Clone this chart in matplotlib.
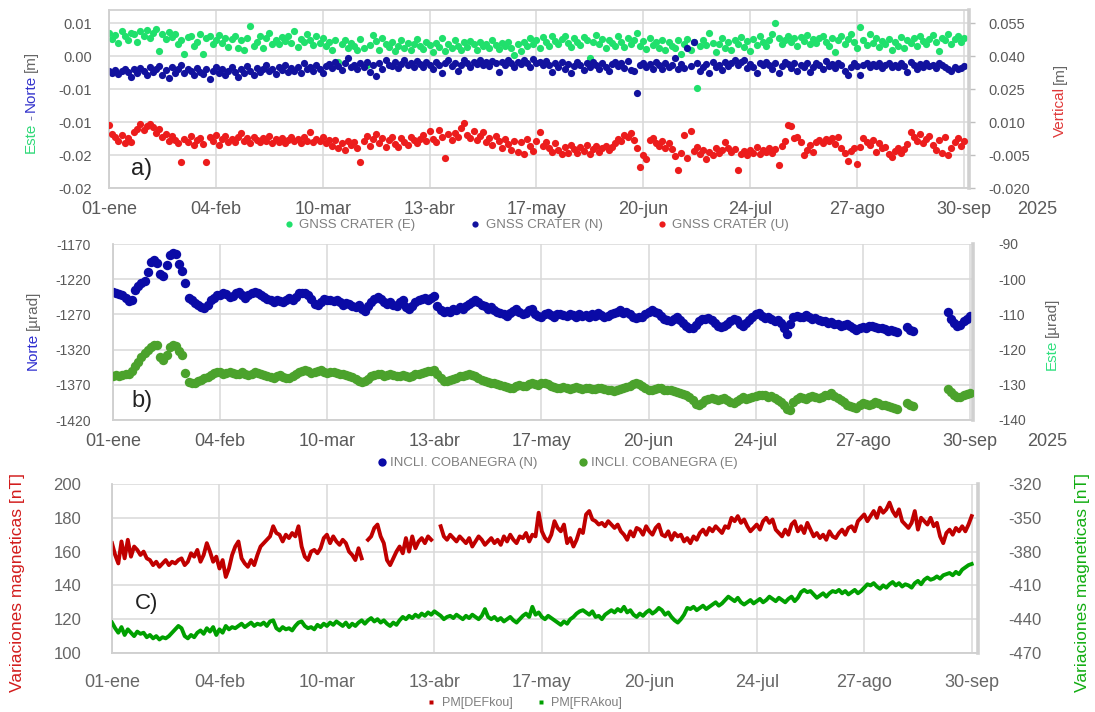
import numpy as np
import matplotlib
matplotlib.use("Agg")
import matplotlib.pyplot as plt
from matplotlib.lines import Line2D
from matplotlib.ticker import FixedLocator, FixedFormatter

plt.rcParams["font.family"] = ["Liberation Sans", "DejaVu Sans"]
plt.rcParams["axes.unicode_minus"] = False
NARROW = ["Liberation Sans Narrow", "Liberation Sans", "DejaVu Sans"]

W, H = 1095, 712

# ---------------------------------------------------------------- common axis
date_ticks = [0, 34, 68, 102, 136, 170, 204, 238, 272]
date_labels = ["01-ene", "04-feb", "10-mar", "13-abr", "17-may",
               "20-jun", "24-jul", "27-ago", "30-sep"]
year_label = "2025"

# ---------------------------------------------------------------- a) GNSS (mm)
gnss_e_mm = [
    3.5, 2.6, 3.2, 2.0, 3.8, 3.0, 2.4, 3.6, 3.3, 2.2,
    3.9, 3.1, 4.0, 2.8, 3.5, 4.2, 0.8, 3.3, 2.6, 3.7,
    2.9, 3.4, 1.8, 2.5, 0.3, 2.9, 3.1, 1.6, 2.2, 3.4,
    0.4, 2.7, 3.0, 1.9, 2.5, 3.2, 2.0, 2.8, 1.4, 2.6,
    3.0, 1.2, 2.4, 1.0, 2.8, 4.6, 1.5, 2.2, 3.1, 1.3,
    2.7, 3.6, 1.9, 2.4, 1.8, 2.9, 2.3, 3.0, 2.0, 3.8,
    1.4, 2.6, 2.1, 3.3, 2.5, 1.7, 3.1, 2.0, 2.8, 1.6,
    2.2, 1.0, 2.5, -0.9, 1.8, 2.4, 1.2, 2.0, 1.5, 0.9,
    2.6, 1.3, -1.4, 1.7, 3.2, 2.3, 1.0, 2.7, 1.9, 1.4,
    2.1, 0.8, 1.6, 2.4, 1.2, 2.0, 0.9, 1.8, 2.6, 1.5,
    1.1, 2.2, 1.7, 0.7, 2.0, 1.4, 2.8, 0.8, 1.9, 1.3,
    2.5, 1.6, 0.9, 2.1, 1.4, 2.3, 1.8, 1.0, 2.2, 1.5,
    1.9, 1.2, 2.4, 1.7, 1.1, 2.0, 1.6, 2.1, 1.3, 0.2,
    1.8, 0.8, 2.2, 1.5, 2.7, 1.9, 2.4, 1.2, 2.9, 2.1,
    1.6, 3.1, 2.3, 1.8, 2.6, 3.0, 2.0, 1.4, 2.7, 2.2,
    1.7, 2.9, 2.4, -0.3, 2.1, 3.2, 1.9, 2.6, 1.2, 2.5,
    2.0, 1.6, 3.0, 2.2, 1.4, 2.7, 1.9, 2.4, 3.6, 1.5,
    2.3, 1.1, 2.8, 1.7, 2.1, 1.3, 2.5, 0.9, 2.2, 1.6,
    1.2, 2.4, 0.4, 1.8, 2.6, 1.0, 2.2, -4.8, 1.5, 2.4,
    1.7, 3.5, 2.0, 0.6, 1.9, 2.7, 1.3, 2.2, 1.0, 2.5,
    1.8, 2.9, 1.4, 2.3, 0.8, 2.6, 1.7, 3.0, 2.1, 1.5,
    2.4, 3.3, 5.0, 2.8, 1.9, 2.5, 3.1, 2.2, 2.7, 1.6,
    2.9, 2.3, 3.2, 1.8, 2.6, 2.0, 2.8, 3.0, 2.2, 1.5,
    2.7, 0.7, 2.4, 3.1, 1.9, 2.6, 3.4, 2.1, 1.3, 4.5,
    2.5, 1.7, 3.3, 2.0, 2.8, 1.4, 2.3, 1.8, 2.6, 1.0,
    2.2, 1.6, 2.9, 1.3, 2.4, 2.0, 2.7, 1.5, 3.0, 2.3,
    1.8, 2.6, 3.2, 2.1, 0.8, 2.8, 2.4, 3.4, 1.9, 2.6,
    3.0, 2.2, 2.7,
]
gnss_n_mm = [
    -2.3, -2.5, -2.1, -2.7, -2.2, -1.9, -2.4, -3.1, -2.0, -2.6,
    -1.8, -2.2, -2.9, -1.6, -2.4, -2.0, -1.5, -2.8, -2.1, -3.3,
    -1.7, -2.5, -2.0, -1.4, -2.6, -1.9, -2.3, -2.9, -1.8, -2.4,
    -2.7, -2.0, -3.5, -2.2, -1.6, -2.5, -1.9, -2.8, -2.3, -1.7,
    -2.4, -3.2, -2.0, -2.6, -1.5, -2.2, -2.9, -1.8, -2.4, -2.0,
    -1.4, -2.3, -1.9, -2.7, -1.6, -2.1, -1.3, -2.4, -1.8, -2.2,
    -1.6, -2.5, -1.1, -2.0, -1.7, -2.3, -1.4, -1.9, -2.6, -1.5,
    -1.2, -1.8, -0.9, -1.5, -2.1, -1.0, -0.3, -1.6, -1.3, -2.0,
    -1.1, -1.7, -0.8, -2.4, -1.4, -3.0, -1.0, -1.9, -0.6, -1.3,
    -1.5, -0.9, -1.8, -1.2, -0.5, -1.4, -1.0, -1.7, -0.7, -1.2,
    -1.6, -0.9, -1.3, -2.0, -0.8, -1.4, -2.6, -1.1, -0.6, -1.5,
    -1.0, -2.3, -1.3, -0.5, -1.1, -1.7, -0.8, -1.2, -0.6, -1.4,
    -0.9, -1.5, -0.7, -1.1, -2.4, -0.8, -1.3, -0.5, -1.0, -1.6,
    -0.8, -1.2, -0.6, -1.0, -1.7, -0.4, -1.1, -0.9, -1.4, -0.7,
    -1.3, -2.4, -1.0, -1.6, -0.8, -1.9, -1.2, -2.5, -1.5, -0.9,
    -1.4, -2.1, -1.1, -1.7, -0.8, -1.3, -1.9, -1.0, -1.6, -2.3,
    -1.2, -0.9, -1.5, -1.1, -1.8, -0.7, -2.1, -2.2, -5.6, -1.3,
    -1.0, -1.6, -1.2, -1.9, -0.8, -1.4, -2.0, -1.1, -1.7, -1.3,
    -0.3, -2.0, -1.2, -1.8, 1.2, -1.5, 2.2, -1.0, -2.3, -1.6,
    -1.2, -2.6, -0.9, -1.7, -1.3, -2.1, -0.8, -1.5, -1.1, -0.6,
    -1.4, -0.9, -0.5, -1.8, -1.2, -1.6, -2.5, -1.0, -1.4, -0.8,
    -1.3, -1.9, -1.1, -2.6, -1.5, -0.9, -1.2, -1.8, -1.0, -2.2,
    -1.4, -1.7, -1.1, -2.4, -1.6, -1.0, -1.3, -1.9, -0.7, -1.5,
    -1.2, -1.8, -1.0, -1.4, -2.3, -2.8, -1.6, -1.1, -1.5, -2.9,
    -1.3, -1.0, -1.7, -1.2, -1.5, -1.1, -1.8, -1.4, -1.0, -1.6,
    -1.3, -1.7, -1.1, -1.5, -2.4, -0.8, -1.4, -1.9, -1.2, -1.6,
    -1.0, -1.5, -1.3, -1.8, -1.1, -1.4, -1.7, -2.0, -2.3, -1.6,
    -2.0, -1.8, -1.5,
]
gnss_u_mm = [
    8.5, 4.8, 3.3, 1.5, 4.0, 0.4, 2.6, 1.0, 5.5, 7.0,
    9.3, 6.4, 8.2, 9.0, 7.6, 5.2, 6.8, 3.0, 4.6, 1.2,
    3.8, 2.0, 0.5, -8.3, 2.4, 0.9, 3.5, -0.6, 1.8, 2.9,
    0.2, -8.3, 3.3, 1.4, 4.2, -0.3, 2.1, 3.6, 0.8, 2.5,
    1.0, 3.0, 5.2, 1.6, 2.7, 0.3, 3.4, 2.0, 0.9, 2.6,
    1.5, 3.8, 0.6, 2.3, 1.1, 2.8, 0.4, 1.9, 3.2, 1.3,
    2.2, 0.7, 3.0, 1.6, 5.6, 0.9, 2.5, 1.2, 3.1, 0.5,
    1.8, -0.8, 2.0, -1.9, 0.6, -2.5, 1.3, -0.4, 0.9, -1.6,
    -8.0, 1.5, 3.6, -0.9, 2.3, 4.4, 0.4, 2.8, -1.2, 1.9,
    3.4, 0.2, -1.5, 2.6, 1.0, -0.6, 3.0, 1.7, 0.3, 2.2,
    4.0, 1.3, 5.8, 2.5, 0.8, 6.3, 3.2, -6.5, 4.5, 2.0,
    5.1, 3.4, 7.2, 9.6, 4.0, 2.6, 6.0, 1.8, 3.5, 5.3,
    0.9, 2.7, -0.5, 3.8, 1.4, -1.8, 2.3, 0.2, -2.6, 1.5,
    -3.8, 0.8, -4.6, 2.4, -1.0, -3.3, 1.2, 5.4, -0.7, 1.0,
    -1.9, -3.6, 0.5, -2.8, -4.5, -1.2, -3.9, -0.6, -2.4, -4.1,
    -1.5, -3.0, -0.3, -4.4, -2.2, -1.0, -3.5, -2.0, -0.8, -2.9,
    -1.4, 0.6, 2.5, 1.4, 4.0, 3.2, 5.1, 2.0, -1.8, -10.6,
    -4.8, -7.0, 1.8, 2.9, 0.6, -0.8, 1.5, -1.6, 0.4, -2.2,
    -5.5, -12.0, -4.0, 4.3, -6.2, 5.9, -3.0, -1.5, -4.5, -2.6,
    -6.8, -3.4, -5.0, -1.8, -4.2, -2.9, 0.8, -1.6, -3.7, -2.3,
    -12.0, -4.6, -3.0, -4.8, -2.5, -3.9, -1.4, -4.4, -2.8, -3.6,
    -1.9, -4.1, -2.2, -9.5, -0.7, 1.5, 8.8, 8.3, 2.6, 3.4,
    0.8, -5.0, -2.6, -0.4, -3.8, 1.1, 1.8, 0.6, 2.5, 1.3,
    2.8, 0.2, 3.0, -1.6, -4.0, -7.8, -3.0, -2.0, -9.0, -1.2,
    2.6, 1.0, -0.6, 2.0, -3.4, 0.4, -2.0, -1.4, -4.6, -5.8,
    -3.0, -1.6, -4.2, -2.4, 0.2, 5.6, 3.0, 1.4, 4.6, 0.6,
    2.2, 3.5, -0.4, -2.8, 1.8, -4.2, 3.0, -5.0, -1.6, 0.8,
    2.6, -0.8, 1.2,
]

# ---------------------------------------------------------------- b) tilt (µrad)
nan = np.nan
incli_n = [
    -1238, -1240, -1241, -1243, -1247, -1251, -1250, -1236, -1230, -1226,
    -1222, -1210, -1195, -1193, -1197, -1212, -1215, -1200, -1186, -1183,
    -1184, -1198, -1208, -1226, -1246, -1250, -1254, -1257, -1260, -1261,
    -1256, -1250, -1246, -1243, -1242, -1240, -1241, -1245, -1244, -1240,
    -1238, -1242, -1246, -1243, -1240, -1238, -1240, -1242, -1245, -1248,
    -1250, -1252, -1249, -1251, -1253, -1250, -1247, -1250, -1245, -1240,
    -1239, -1240, -1242, -1248, -1255, -1257, -1252, -1248, -1250, -1249,
    -1251, -1250, -1253, -1256, -1254, -1255, -1258, -1260, -1257, -1262,
    -1265, -1258, -1252, -1248, -1245, -1248, -1252, -1255, -1252, -1256,
    -1258, -1253, -1250, -1260, -1262, -1258, -1252, -1250, -1248, -1246,
    -1250, -1246, -1244, -1258, -1264, -1266, -1265, -1267, -1262, -1264,
    -1260, -1262, -1258, -1255, -1252, -1250, -1253, -1256, -1258, -1262,
    -1260, -1264, -1266, -1268, -1270, -1272, -1268, -1265, -1262, -1266,
    -1270, -1268, -1264, -1262, -1270, -1272, -1274, -1270, -1268, -1271,
    -1273, -1270, -1269, -1271, -1272, -1270, -1271, -1273, -1270, -1272,
    -1271, -1273, -1270, -1272, -1268, -1271, -1274, -1272, -1270, -1268,
    -1266, -1264, -1268, -1266, -1270, -1274, -1275, -1273, -1274, -1270,
    -1266, -1264, -1266, -1268, -1272, -1276, -1278, -1280, -1276, -1274,
    -1278, -1282, -1286, -1289, -1290, -1285, -1280, -1276, -1277, -1275,
    -1278, -1282, -1286, -1288, -1287, -1284, -1280, -1276, -1278, -1284,
    -1286, -1282, -1278, -1274, -1270, -1268, -1272, -1275, -1273, -1276,
    -1279, -1278, -1282, -1290, -1298, -1284, -1274, -1272, -1274, -1273,
    -1271, -1274, -1276, -1275, -1278, -1280, -1279, -1282, -1281, -1284,
    -1283, -1286, -1285, -1284, -1286, -1290, -1292, -1290, -1288, -1289,
    -1287, -1286, -1288, -1290, -1289, -1291, -1293, -1292, -1294, -1295,
    nan, nan, -1288, -1292, -1294, nan, nan, nan, nan, nan,
    nan, nan, nan, nan, nan, -1266, -1276, -1282, -1286, -1285,
    -1280, -1276, -1272,
]
incli_e = [
    -127.4, -127.3, -127.5, -127.2, -127.0, -126.8, -126.0, -124.8, -123.5, -122.2,
    -121.0, -120.0, -119.2, -118.8, -118.7, -122.0, -123.0, -121.5, -119.2, -118.7,
    -119.0, -120.5, -121.6, -126.6, -129.2, -129.5, -129.4, -129.0, -128.6, -128.2,
    -127.8, -127.2, -126.6, -126.4, -126.5, -126.8, -126.6, -126.3, -126.7, -127.0,
    -126.8, -126.5, -126.9, -127.2, -126.8, -126.5, -126.7, -127.0, -127.3, -127.6,
    -127.8, -128.0, -127.6, -127.3, -127.8, -128.2, -128.0, -127.5, -127.0, -126.4,
    -126.0, -125.8, -126.2, -126.6, -126.4, -126.0, -125.9, -126.3, -126.6, -126.5,
    -126.3, -126.7, -127.0, -126.8, -127.2, -127.6, -127.9, -128.3, -128.8, -129.2,
    -129.0, -128.4, -127.6, -127.2, -126.8, -127.0, -127.4, -127.2, -127.0, -127.3,
    -127.6, -127.4, -127.1, -127.5, -127.8, -127.4, -127.0, -126.8, -126.6, -126.4,
    -126.2, -126.0, -125.7, -127.0, -128.2, -128.8, -129.0, -128.7, -128.4, -128.0,
    -127.6, -127.4, -127.2, -126.9, -127.2, -127.6, -128.0, -128.5, -128.9, -129.1,
    -129.4, -129.6, -129.8, -130.0, -130.2, -130.6, -131.0, -130.8, -130.4, -130.0,
    -130.2, -130.4, -129.8, -129.6, -129.8, -130.0, -129.6, -129.4, -129.8, -130.2,
    -130.6, -130.8, -131.0, -130.7, -130.9, -131.1, -130.8, -130.6, -130.9, -131.2,
    -131.0, -130.8, -131.1, -131.3, -131.0, -130.9, -131.2, -131.4, -131.6, -131.8,
    -131.6, -131.3, -131.0, -130.6, -130.2, -129.8, -129.6, -129.8, -130.2, -130.8,
    -131.4, -131.6, -131.2, -130.8, -131.0, -131.4, -131.6, -131.5, -131.8, -132.0,
    -132.2, -132.6, -133.0, -133.4, -134.2, -135.4, -135.8, -135.2, -134.4, -134.0,
    -133.8, -134.0, -134.2, -134.0, -133.8, -134.4, -135.0, -135.2, -134.6, -134.0,
    -133.6, -134.0, -133.8, -133.4, -133.2, -133.0, -132.8, -133.0, -133.4, -133.2,
    -133.8, -134.4, -134.8, -135.6, -137.0, -137.2, -134.8, -134.0, -133.4, -133.8,
    -134.0, -133.6, -133.2, -133.6, -133.8, -133.4, -133.0, -132.8, -132.4, -133.2,
    -133.8, -134.4, -135.0, -135.6, -136.0, -136.4, -136.6, -135.8, -135.2, -135.4,
    -135.6, -135.4, -135.0, -135.2, -135.6, -135.8, -136.0, -136.2, -136.5, -136.8,
    nan, nan, -135.2, -135.6, -136.0, nan, nan, nan, nan, nan,
    nan, nan, nan, nan, nan, -131.2, -132.0, -132.8, -133.4, -133.6,
    -133.0, -132.6, -132.2,
]

# ---------------------------------------------------------------- c) magnetometers (nT)
pm_def = [
    165, 158, 153, 166, 156, 167, 157, 163, 161, 158,
    160, 156, 155, 152, 154, 151, 153, 155, 152, 154,
    153, 155, 156, 152, 154, 159, 157, 161, 154, 158,
    165, 160, 154, 157, 150, 155, 145, 150, 158, 163,
    166, 156, 153, 151, 155, 152, 158, 163, 165, 167,
    169, 175, 171, 170, 166, 170, 168, 171, 169, 175,
    163, 157, 155, 160, 161, 159, 162, 168, 170, 165,
    169, 166, 164, 167, 165, 160, 158, 155, 162, 156,
    nan, 167, 169, 174, 176, 169, 165, 155, 152, 156,
    160, 163, 159, 168, 160, 169, 162, 166, 168, 165,
    169, 167, nan, nan, 175, 169, 167, 170, 168, 166,
    169, 167, 165, 168, 163, 166, 169, 167, 164, 166,
    168, 165, 167, 164, 169, 166, 170, 167, 165, 169,
    168, 171, 166, 170, 169, 183, 172, 168, 166, 170,
    178, 174, 172, 176, 165, 168, 163, 167, 173, 171,
    182, 184, 179, 178, 176, 177, 175, 178, 176, 174,
    176, 172, 170, 167, 172, 169, 174, 173, 170, 175,
    172, 170, 174, 176, 170, 169, 172, 167, 171, 169,
    170, 166, 168, 165, 169, 167, 171, 173, 170, 174,
    172, 175, 173, 171, 175, 174, 180, 178, 181, 177,
    179, 175, 172, 174, 176, 173, 178, 180, 177, 179,
    173, 171, 169, 173, 170, 176, 178, 172, 175, 171,
    177, 173, 169, 171, 168, 170, 167, 172, 169, 168,
    171, 173, 170, 174, 175, 172, 178, 180, 182, 178,
    181, 184, 180, 186, 183, 185, 189, 184, 181, 185,
    178, 176, 174, 177, 184, 173, 180, 178, 176, 180,
    175, 177, 169, 165, 171, 173, 170, 174, 172, 175,
    172, 176, 181,
]
pm_fra = [
    -443, -448, -452, -447, -454, -449, -452, -455, -451, -453,
    -452, -456, -454, -457, -455, -458, -456, -457, -455, -452,
    -449, -446, -448, -455, -457, -454, -456, -452, -450, -453,
    -448, -451, -447, -454, -449, -452, -446, -449, -447, -448,
    -446, -444, -447, -445, -443, -446, -444, -445, -443, -446,
    -442, -441, -448, -450, -447, -449, -448, -450, -446, -443,
    -442, -446, -448, -447, -449, -445, -447, -444, -446, -443,
    -445, -442, -444, -446, -443, -447, -444, -446, -443, -441,
    -444, -441, -439, -442, -440, -443, -441, -444, -446, -443,
    -445, -441, -438, -440, -437, -439, -436, -438, -435, -437,
    -434, -436, -433, -435, -437, -440, -438, -437, -439, -436,
    -438, -440, -437, -439, -436, -438, -440, -437, -431, -438,
    -440, -438, -441, -439, -442, -440, -438, -441, -443, -440,
    -437, -435, -438, -429, -436, -434, -438, -440, -437, -439,
    -441, -443, -445, -442, -444, -440, -438, -435, -433, -432,
    -434, -436, -433, -438, -437, -440, -436, -434, -432, -434,
    -431, -433, -429, -434, -432, -436, -438, -435, -437, -434,
    -432, -435, -433, -430, -432, -436, -434, -438, -441, -443,
    -440, -436, -430, -431, -429, -432, -430, -428, -431, -429,
    -427, -425, -428, -426, -423, -420, -422, -424, -421, -425,
    -427, -425, -423, -426, -424, -422, -425, -423, -420, -422,
    -424, -421, -423, -425, -422, -420, -424, -421, -416, -414,
    -416, -415, -418, -421, -419, -417, -420, -417, -415, -416,
    -414, -417, -415, -418, -416, -414, -417, -415, -412, -409,
    -410, -408, -411, -413, -410, -412, -409, -407, -410, -408,
    -411, -409, -410, -412, -408, -406, -409, -405, -403, -405,
    -404, -402, -404, -401, -400, -399, -401, -398, -400, -396,
    -394, -392, -391,
]

days = np.arange(len(gnss_e_mm))

# ---------------------------------------------------------------- styling helpers
GRID = "#d9d9d9"
TICK = "#595959"
GRAY_TXT = "#7f7f7f"


def axes_px(fig, left, top, right, bottom):
    return fig.add_axes([left / W, 1 - bottom / H, (right - left) / W, (bottom - top) / H])


def style_pair(ax, ax2, xmax, ysize, xsize, xpad, ypad_l, ypad_r):
    ax.set_xlim(0, xmax)
    ax.set_xticks(date_ticks)
    ax.set_xticklabels(date_labels)
    ax.grid(True, color=GRID, lw=1.1)
    ax.set_axisbelow(True)
    for a in (ax, ax2):
        for s in a.spines.values():
            s.set_color("#d0d0d0")
            s.set_linewidth(1.1)
    ax2.spines["right"].set_linewidth(2.6)
    ax.tick_params(axis="x", length=0, pad=xpad, labelsize=xsize, labelcolor=TICK)
    ax.tick_params(axis="y", length=0, pad=ypad_l, labelsize=ysize, labelcolor=TICK)
    ax2.tick_params(axis="y", length=0, pad=ypad_r, labelsize=ysize, labelcolor=TICK)


def stacked_label(fig, x_px, yc_px, pieces, size, family):
    """Vertical label made of differently coloured pieces, read bottom to top."""
    renderer = fig.canvas.get_renderer()
    items = []
    for text, color, gap in pieces:
        t = fig.text(0, 0, text, rotation=90, color=color, fontsize=size,
                     family=family, ha="center", va="bottom")
        items.append((t, t.get_window_extent(renderer).height, gap))
    total = sum(h + g for _, h, g in items)
    y = (H - yc_px) - total / 2
    for t, h, g in items:
        t.set_position((x_px / W, y / H))
        y += h + g


fig = plt.figure(figsize=(W / 100, H / 100), dpi=100)
fig.patch.set_facecolor("white")

# ================================================================ panel a
c_e, c_n, c_u = "#20e06c", "#12129e", "#ec1c1c"
ax_a = axes_px(fig, 109, 10, 969, 188)
ax_a2 = ax_a.twinx()
ax_a.scatter(days, np.array(gnss_e_mm) / 1000, s=27, color=c_e, linewidths=0, zorder=3)
ax_a.scatter(days, np.array(gnss_n_mm) / 1000, s=27, color=c_n, linewidths=0, zorder=3)
ax_a2.scatter(days, np.array(gnss_u_mm) / 1000, s=27, color=c_u, linewidths=0, zorder=3)

left_ticks_a = [-0.020, -0.015, -0.010, -0.005, 0.0, 0.005]
left_labels_a = ["-0.02", "-0.02", "-0.01", "-0.01", "0.00", "0.01"]
right_ticks_a = [-0.020, -0.005, 0.010, 0.025, 0.040, 0.055]
ax_a.set_ylim(-0.020, 0.005 + 0.025 * 13.3 / 164.7)
ax_a2.set_ylim(-0.020, 0.055 + 0.075 * 13.3 / 164.7)
ax_a.yaxis.set_major_locator(FixedLocator(left_ticks_a))
ax_a.yaxis.set_major_formatter(FixedFormatter(left_labels_a))
ax_a2.yaxis.set_major_locator(FixedLocator(right_ticks_a))
ax_a2.set_yticklabels([f"{v:.3f}" for v in right_ticks_a])
style_pair(ax_a, ax_a2, 273.6, 10.5, 13, 9, 12, 12)
ax_a2.tick_params(axis="y", length=4, width=1, color="#bfbfbf", pad=10)
ax_a.spines["top"].set_color("#e0e0e0")

fig.text(142 / W, 1 - 169 / H, "a)", fontsize=17, ha="center", va="center", color="#222222")
fig.text(1037 / W, 1 - 209 / H, year_label, fontsize=13, ha="center", va="center", color=TICK)

fig.legend(
    [Line2D([], [], ls="none", marker="o", ms=4.5, mec="none", mfc=c) for c in (c_e, c_n, c_u)],
    ["GNSS CRATER (E)", "GNSS CRATER (N)", "GNSS CRATER (U)"],
    loc="center", bbox_to_anchor=(537 / W, 1 - 225 / H), ncol=3, frameon=False,
    fontsize=9.5, labelcolor=GRAY_TXT, handlelength=0.6, handletextpad=0.5,
    columnspacing=4.2, borderpad=0,
)

# ================================================================ panel b
c_bn, c_be = "#0a0aa6", "#4ba22c"
ax_b = axes_px(fig, 113, 244, 973, 420)
ax_b2 = ax_b.twinx()
ax_b.scatter(days, incli_n, s=46, color=c_bn, linewidths=0, zorder=3)
ax_b2.scatter(days, incli_e, s=46, color=c_be, linewidths=0, zorder=3)
ax_b.set_ylim(-1420, -1170)
ax_b.set_yticks(np.arange(-1420, -1169, 50))
ax_b2.set_ylim(-140, -90)
ax_b2.set_yticks(np.arange(-140, -89, 10))
style_pair(ax_b, ax_b2, 273.0, 10, 13, 9, 16, 18)
ax_b.spines["top"].set_visible(False)
ax_b2.spines["top"].set_visible(False)

fig.text(142 / W, 1 - 401 / H, "b)", fontsize=17, ha="center", va="center", color="#222222")
fig.text(1047 / W, 1 - 441 / H, year_label, fontsize=13, ha="center", va="center", color=TICK)

fig.legend(
    [Line2D([], [], ls="none", marker="o", ms=6, mec="none", mfc=c) for c in (c_bn, c_be)],
    ["INCLI. COBANEGRA (N)", "INCLI. COBANEGRA (E)"],
    loc="center", bbox_to_anchor=(558 / W, 1 - 463 / H), ncol=2, frameon=False,
    fontsize=9.5, labelcolor=GRAY_TXT, handlelength=0.6, handletextpad=0.3,
    columnspacing=3.2, borderpad=0,
)

# ================================================================ panel c
c_def, c_fra = "#c00000", "#00a000"
ax_c = axes_px(fig, 112, 484, 978, 653)
ax_c2 = ax_c.twinx()
ax_c.plot(days, pm_def, color=c_def, lw=2.8, zorder=3)
ax_c2.plot(days, pm_fra, color=c_fra, lw=2.8, zorder=3)
ax_c.set_ylim(100, 200)
ax_c.set_yticks(np.arange(100, 201, 20))
ax_c2.set_ylim(-470, -320)
ax_c2.set_yticks(np.arange(-470, -319, 30))
style_pair(ax_c, ax_c2, 274.0, 12, 13, 15, 22, 22)
ax_c.tick_params(axis="both", labelcolor="#666666")
ax_c2.tick_params(axis="y", labelcolor="#666666")
ax_c.spines["top"].set_visible(False)
ax_c2.spines["top"].set_visible(False)

fig.text(147 / W, 1 - 604 / H, "C)", fontsize=16, ha="center", va="center", color="#222222")

fig.legend(
    [Line2D([], [], ls="none", marker="s", ms=2.5, mec="none", mfc=c) for c in (c_def, c_fra)],
    ["PM[DEFkou]", "PM[FRAkou]"],
    loc="center", bbox_to_anchor=(525 / W, 1 - 703 / H), ncol=2, frameon=False,
    fontsize=9, labelcolor=GRAY_TXT, handlelength=0.5, handletextpad=0.6,
    columnspacing=2.0, borderpad=0,
)

# ================================================================ axis titles
stacked_label(fig, 31, 102, [("Este", "#2fd978", 3), ("-", "#7b7bb0", 3),
                             ("Norte", "#3434cc", 3), ("[m]", "#666666", 0)], 11, NARROW)
stacked_label(fig, 1060, 100, [("Vertical", "#e03838", 3), ("[m]", "#666666", 0)], 11, NARROW)
stacked_label(fig, 33, 330, [("Norte", "#2e2ecf", 3), ("[µrad]", "#666666", 0)], 11, NARROW)
stacked_label(fig, 1052, 334, [("Este", "#2fe07e", 3), ("[µrad]", "#666666", 0)], 11, NARROW)
stacked_label(fig, 18, 583, [("Variaciones magneticas [nT]", "#d21c1c", 0)], 12.5, ["Liberation Sans", "DejaVu Sans"])
stacked_label(fig, 1082, 583, [("Variaciones magneticas [nT]", "#12ad12", 0)], 12.5, ["Liberation Sans", "DejaVu Sans"])

fig.savefig("out.png", dpi=100, facecolor="white")
